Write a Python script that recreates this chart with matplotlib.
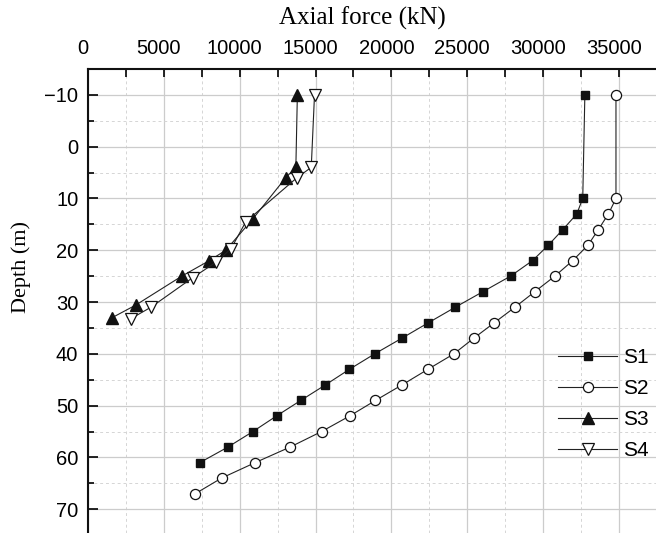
import matplotlib
matplotlib.use("Agg")
import matplotlib.pyplot as plt
import matplotlib.transforms as mtrans
from matplotlib.ticker import MultipleLocator

# ---- data ----
s1_depth = [-10, 10, 13, 16, 19, 22, 25, 28, 31, 34, 37, 40, 43, 46, 49, 52, 55, 58, 61]
s1_force = [32750, 32610, 32215, 31300, 30350, 29300, 27850, 26030, 24210, 22435,
            20680, 18900, 17225, 15650, 14025, 12425, 10875, 9225, 7375]

s2_depth = [-10, 10, 13, 16, 19, 22, 25, 28, 31, 34, 37, 40, 43, 46, 49, 52, 55, 58, 61, 64, 67]
s2_force = [34800, 34800, 34300, 33640, 32960, 31950, 30770, 29450, 28140, 26780,
            25420, 24120, 22400, 20700, 18950, 17250, 15400, 13325, 11025, 8800, 7075]

s3_depth = [-10, 4, 6, 14, 20, 22, 25, 30.6, 33]
s3_force = [13800, 13700, 13030, 10850, 9080, 8000, 6180, 3140, 1600]

s4_depth = [-10, 4, 6, 14.5, 19.7, 22.3, 25.3, 31, 33.2]
s4_force = [14930, 14715, 13770, 10400, 9430, 8440, 6900, 4150, 2830]

x_ticks = [0, 5000, 10000, 15000, 20000, 25000, 30000, 35000]
y_ticks = [-10, 0, 10, 20, 30, 40, 50, 60, 70]

W, H = 656, 533
fig = plt.figure(figsize=(W / 100, H / 100), dpi=100)
left_px, top_px = 88, 69
ax = fig.add_axes([left_px / W, 0, (W - left_px) / W, (H - top_px) / H])

sans = ["Liberation Sans", "DejaVu Sans"]
serif = ["Liberation Serif", "DejaVu Serif"]

lc = "#222222"
ax.plot(s1_force, s1_depth, color=lc, lw=0.8, marker="s", ms=6.3,
        mfc="#111111", mec="#111111", label="S1", zorder=3)
ax.plot(s2_force, s2_depth, color=lc, lw=0.8, marker="o", ms=7.3,
        mfc="white", mec="#111111", mew=0.9, label="S2", zorder=3)
ax.plot(s3_force, s3_depth, color=lc, lw=0.8, marker="^", ms=9,
        mfc="#111111", mec="#111111", label="S3", zorder=3)
ax.plot(s4_force, s4_depth, color=lc, lw=0.8, marker="v", ms=9,
        mfc="white", mec="#111111", mew=0.9, label="S4", zorder=3)

xmax = (W - left_px) / (619 - 88) * 35000
ax.set_xlim(0, xmax)
ax.set_ylim(74.6, -15)

ax.xaxis.tick_top()
ax.xaxis.set_label_position("top")
ax.set_xticks(x_ticks)
ax.set_yticks(y_ticks)
ax.xaxis.set_minor_locator(MultipleLocator(2500))
ax.yaxis.set_minor_locator(MultipleLocator(5))

ax.grid(which="major", color="#cccccc", lw=0.9, ls="-")
ax.grid(which="minor", color="#d5d5d5", lw=0.7, ls=(0, (3, 3)))
ax.set_axisbelow(True)

for s in ["right", "bottom"]:
    ax.spines[s].set_visible(False)
for s in ["top", "left"]:
    ax.spines[s].set_linewidth(1.5)
    ax.spines[s].set_color("#111111")

ax.tick_params(axis="x", which="major", direction="in", length=6, width=1.2,
               pad=8, labelsize=14.5, top=True, bottom=False)
ax.tick_params(axis="x", which="minor", direction="in", length=6, width=1.2,
               top=True, bottom=False)
ax.tick_params(axis="y", which="major", direction="in", length=7, width=1.2,
               pad=7, labelsize=14.5)
ax.tick_params(axis="y", which="minor", direction="in", length=4, width=1.2)
shift = mtrans.ScaledTranslation(-5 / 100, 0, fig.dpi_scale_trans)
for lab in ax.get_xticklabels():
    lab.set_family(sans)
    lab.set_transform(lab.get_transform() + shift)
for lab in ax.get_yticklabels():
    lab.set_family(sans)

ax.set_xlabel("Axial force (kN)", family=serif, fontsize=18, va="center", ha="center")
ax.xaxis.set_label_coords((362 - left_px) / (W - left_px), 1 + (top_px - 18) / (H - top_px))
ax.set_ylabel("Depth (m)", family=serif, fontsize=16, va="center", ha="center")
ax.yaxis.set_label_coords((21 - left_px) / (W - left_px), 1 - (267 - top_px) / (H - top_px))

leg = ax.legend(loc="upper left", bbox_to_anchor=(550 / W, 1 - 340 / H),
                bbox_transform=fig.transFigure, frameon=False,
                handlelength=2.8, handletextpad=0.3, labelspacing=0.57,
                borderaxespad=0, prop={"family": sans, "size": 15})

fig.savefig("out.png", dpi=100)
